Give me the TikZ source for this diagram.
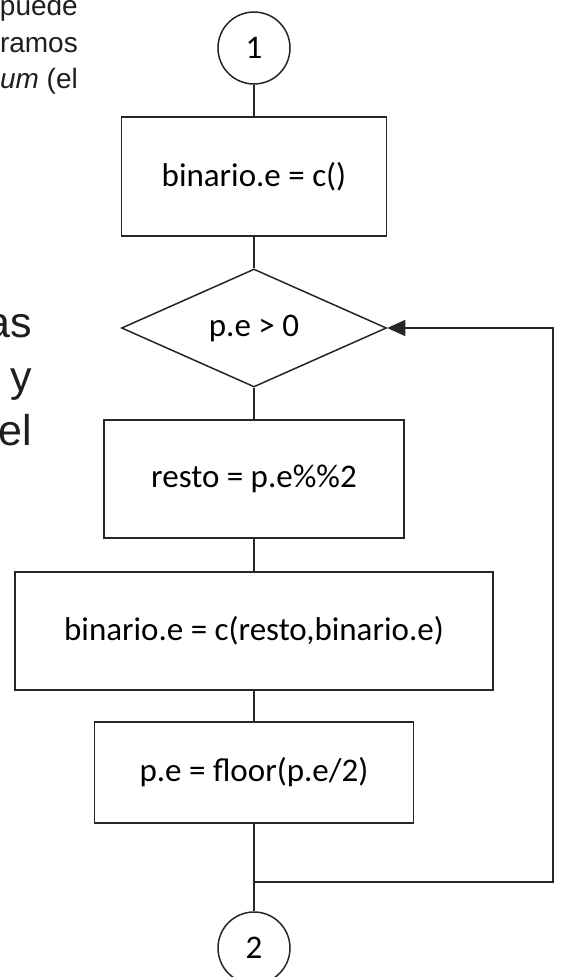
\documentclass[tikz,border=0pt]{standalone}
\usepackage{fontspec}
\setmainfont{Carlito}
\newfontfamily\testo{Liberation Sans}
\usetikzlibrary{arrows.meta,shapes.geometric}
\definecolor{linea}{HTML}{262626}
\definecolor{grigio}{HTML}{1E1E1E}
\tikzset{
>={Triangle[length=18pt,width=16pt]},
node distance=150pt,
blocco/.style={rectangle,draw=linea,line width=1.5pt,inner sep=0pt,font=\fontsize{33}{40}\selectfont},
rombo/.style={diamond,draw=linea,line width=1.5pt,inner sep=0pt,font=\fontsize{33}{40}\selectfont},
connettore/.style={circle,draw=linea,line width=1.5pt,minimum size=72pt,inner sep=0pt,font=\fontsize{33}{40}\selectfont},
filo/.style={draw=linea,line width=1.5pt},
freccia/.style={->,draw=linea,line width=1.5pt},
pagina/.style={anchor=base east,inner sep=0pt,text=grigio}}

\begin{document}
\begin{tikzpicture}[x=1pt,y=-1pt]
\useasboundingbox (0,0) rectangle (561,977);

% testo della pagina
\node[pagina,font=\testo\fontsize{28}{34}\selectfont] (t1) at (78,16) {puede};
\node[pagina,font=\testo\fontsize{28}{34}\selectfont] (t2) at (78,52) {ramos};
\node[pagina,font=\testo\fontsize{28}{34}\selectfont] (t3) at (78,88) {\itshape um\upshape{} (el};
\node[pagina,font=\testo\fontsize{43}{54}\selectfont] (t4) at (32,337) {as};
\node[pagina,font=\testo\fontsize{43}{54}\selectfont] (t5) at (32,391) {y};
\node[pagina,font=\testo\fontsize{43}{54}\selectfont] (t6) at (32,445) {el};

% diagramma
\node[connettore] (c1) at (254,48) {1};
\node[blocco,minimum width=265pt,minimum height=119pt] (ini) [below of=c1,node distance=128.5pt] {binario.e = c()};
\node[rombo,minimum width=265pt,minimum height=118pt] (cond) [below of=ini,node distance=151.5pt] {p.e > 0};
\node[blocco,minimum width=300pt,minimum height=118pt] (resto) [below of=cond,node distance=151pt] {resto = p.e\%\%2};
\node[blocco,minimum width=478pt,minimum height=118pt] (agg) [below of=resto,node distance=152pt] {binario.e = c(resto,binario.e)};
\node[blocco,minimum width=319pt,minimum height=101pt] (div) [below of=agg,node distance=141.5pt] {p.e = floor(p.e/2)};
\node[connettore] (c2) [below of=div,node distance=175.5pt] {2};

\coordinate (nodo) at (254,882);
\coordinate (rit) at (553,328);

\path[filo] (c1) edge (ini) (ini) edge (cond) (cond) edge (resto) (resto) edge (agg) (agg) edge (div) (div) edge (c2);
\draw[freccia] (nodo) -| (rit) -- (cond.east);

\end{tikzpicture}
\end{document}
